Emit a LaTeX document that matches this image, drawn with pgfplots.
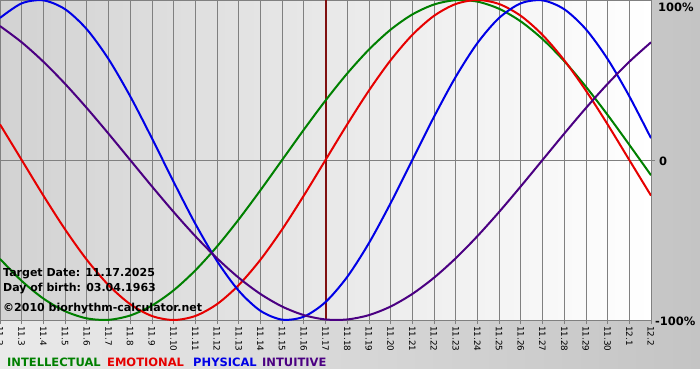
\documentclass[border=0pt]{standalone}
\usepackage{fontspec}
\setmainfont{DejaVu Sans}
\usepackage{pgfplots}
\usepackage{pgfplotstable}
\usetikzlibrary{backgrounds}
\pgfplotsset{compat=1.18}
\definecolor{cInt}{RGB}{0,128,0}
\definecolor{cEmo}{RGB}{230,0,0}
\definecolor{cPhy}{RGB}{0,0,230}
\definecolor{cItu}{RGB}{75,0,130}
\definecolor{cTgt}{RGB}{128,16,16}
\definecolor{gridc}{RGB}{128,128,128}
\definecolor{bgL}{RGB}{234,234,234}
\definecolor{bgR}{RGB}{196,196,196}
\definecolor{plL}{RGB}{210,210,210}
\definecolor{plR}{RGB}{255,255,255}
\pgfplotstableread{
x phy emo int itu
0 0.8879 0.2225 -0.6182 0.8372
1 0.9791 0 -0.7557 0.7357
2 0.9977 -0.2225 -0.8660 0.6142
3 0.9423 -0.4339 -0.9450 0.4759
4 0.8170 -0.6235 -0.9898 0.3247
5 0.6311 -0.7818 -0.9989 0.1646
6 0.3984 -0.9010 -0.9718 0
7 0.1362 -0.9749 -0.9096 -0.1646
8 -0.1362 -1 -0.8146 -0.3247
9 -0.3984 -0.9749 -0.6901 -0.4759
10 -0.6311 -0.9010 -0.5406 -0.6142
11 -0.8170 -0.7818 -0.3717 -0.7357
12 -0.9423 -0.6235 -0.1893 -0.8372
13 -0.9977 -0.4339 0 -0.9158
14 -0.9791 -0.2225 0.1893 -0.9694
15 -0.8879 0 0.3717 -0.9966
16 -0.7308 0.2225 0.5406 -0.9966
17 -0.5196 0.4339 0.6901 -0.9694
18 -0.2698 0.6235 0.8146 -0.9158
19 0 0.7818 0.9096 -0.8372
20 0.2698 0.9010 0.9718 -0.7357
21 0.5196 0.9749 0.9989 -0.6142
22 0.7308 1 0.9898 -0.4759
23 0.8879 0.9749 0.9450 -0.3247
24 0.9791 0.9010 0.8660 -0.1646
25 0.9977 0.7818 0.7557 0
26 0.9423 0.6235 0.6182 0.1646
27 0.8170 0.4339 0.4582 0.3247
28 0.6311 0.2225 0.2817 0.4759
29 0.3984 0 0.0951 0.6142
30 0.1362 -0.2225 -0.0951 0.7357
}\bio
\begin{document}
\begin{tikzpicture}[x=1pt,y=1pt]
\begin{axis}[name=ax, scale only axis,
  width=651pt, height=320pt,
  xmin=0, xmax=30, ymin=-1, ymax=1,
  axis background/.style={left color=plL, right color=plR},
  axis line style={gridc, line width=0.8pt},
  xtick={0,...,30},
  xticklabels={11.2,11.3,11.4,11.5,11.6,11.7,11.8,11.9,11.10,11.11,11.12,11.13,11.14,11.15,11.16,11.17,11.18,11.19,11.20,11.21,11.22,11.23,11.24,11.25,11.26,11.27,11.28,11.29,11.30,12.1,12.2},
  ytick={0}, yticklabels={},
  xtick pos=bottom, ytick pos=right,
  tick align=outside, major tick length=4pt,
  tick style={gridc, line width=0.8pt},
  xmajorgrids, ymajorgrids,
  major grid style={gridc, line width=0.8pt},
  xticklabel style={rotate=-90, anchor=west, inner sep=2pt, font=\fontsize{8.8}{9}\selectfont},
  clip=true,
]
\addplot[cTgt, line width=2pt] coordinates {(15,-1) (15,1)};
\addplot[cInt, line width=2pt, smooth] table[x=x, y=int] {\bio};
\addplot[cEmo, line width=2pt, smooth] table[x=x, y=emo] {\bio};
\addplot[cPhy, line width=2pt, smooth] table[x=x, y=phy] {\bio};
\addplot[cItu, line width=2pt, smooth] table[x=x, y=itu] {\bio};
\end{axis}
\pgfresetboundingbox
\begin{scope}[shift={(ax.south west)}]
\path[use as bounding box] (0,-60) rectangle (700,320);
\begin{scope}[on background layer]
\fill[white] (0,-60) rectangle (700,320);
\shade[left color=bgL, right color=bgR] (0,-48) rectangle (700,320);
\end{scope}
\begin{scope}[every node/.style={inner sep=0pt}]
\node[anchor=west, font=\bfseries\fontsize{11.5}{12}\selectfont] at (658,313) {100\%};
\node[anchor=west, font=\bfseries\fontsize{11.5}{12}\selectfont] at (659,159) {0};
\node[anchor=west, font=\bfseries\fontsize{11.5}{12}\selectfont] at (655,-1) {-100\%};
\node[anchor=base west, font=\bfseries\fontsize{11}{12}\selectfont] at (3,44) {Target Date: 11.17.2025};
\node[anchor=base west, font=\bfseries\fontsize{11}{12}\selectfont] at (3,29) {Day of birth: 03.04.1963};
\node[anchor=base west, font=\bfseries\fontsize{11}{12}\selectfont] at (3,9) {©2010 biorhythm-calculator.net};
\node[anchor=base west, text=cInt, font=\bfseries\fontsize{11.5}{12}\selectfont] at (7,-46) {INTELLECTUAL};
\node[anchor=base west, text=cEmo, font=\bfseries\fontsize{11.5}{12}\selectfont] at (107,-46) {EMOTIONAL};
\node[anchor=base west, text=cPhy, font=\bfseries\fontsize{11.5}{12}\selectfont] at (193,-46) {PHYSICAL};
\node[anchor=base west, text=cItu, font=\bfseries\fontsize{11.5}{12}\selectfont] at (262,-46) {INTUITIVE};
\end{scope}
\end{scope}
\end{tikzpicture}
\end{document}
